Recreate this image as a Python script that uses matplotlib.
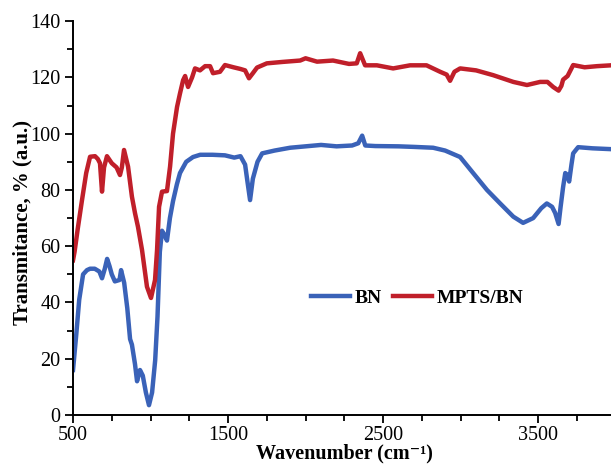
import numpy as np
import matplotlib.pyplot as plt
from matplotlib.ticker import MultipleLocator, FixedLocator

plt.rcParams['font.family'] = ['Liberation Serif', 'DejaVu Serif']

# BN spectrum (wavenumber, transmittance)
bn_x = [500, 520, 540, 565, 590, 610, 640, 670, 687, 705, 720, 735, 750, 770, 800,
        810, 830, 850, 868, 880, 900, 913, 932, 950, 970, 990, 1010, 1030, 1045,
        1060, 1074, 1090, 1106, 1125, 1145, 1170, 1190, 1230, 1274, 1320, 1400,
        1480, 1540, 1580, 1610, 1625, 1642, 1660, 1690, 1720, 1800, 1900, 2000,
        2100, 2200, 2300, 2340, 2365, 2385, 2450, 2600, 2700, 2823, 2900, 2997,
        3081, 3170, 3255, 3340, 3403, 3468, 3520, 3556, 3590, 3610, 3632, 3645,
        3661, 3675, 3686, 3700, 3715, 3726, 3758, 3850, 3970]
bn_y = [16, 28, 41, 50, 51.5, 52, 52, 51, 48.6, 52, 55.5, 53, 50, 47.5, 48,
        51.5, 47, 38, 27, 25, 18, 12, 16, 14, 8, 3.5, 8, 19.5, 35,
        58, 65.5, 64, 62, 70, 76, 82, 86, 90, 91.7, 92.5, 92.5,
        92.3, 91.5, 92, 89, 83, 76.4, 84, 90, 93, 94, 95, 95.5,
        96, 95.5, 95.8, 96.6, 99.3, 95.8, 95.6, 95.5, 95.3, 95, 94, 91.7,
        86, 80, 75.2, 70.5, 68.3, 70, 73.5, 75.2, 74, 71.8, 67.9, 74,
        81, 86, 85.5, 83, 89, 93, 95.2, 94.8, 94.5]

# MPTS/BN spectrum
mpts_x = [500, 510, 530, 558, 585, 610, 642, 660, 674, 687, 700, 719, 750, 781,
          803, 815, 829, 855, 880, 900, 919, 945, 977, 1003, 1029, 1042, 1055,
          1074, 1090, 1106, 1126, 1145, 1171, 1190, 1210, 1223, 1242, 1268,
          1287, 1319, 1352, 1384, 1403, 1448, 1480, 1535, 1580, 1610, 1635,
          1660, 1687, 1750, 1850, 1965, 2000, 2074, 2177, 2280, 2330, 2352,
          2384, 2460, 2565, 2674, 2780, 2868, 2910, 2932, 2960, 2997, 3100,
          3210, 3340, 3428, 3513, 3560, 3597, 3632, 3650, 3661, 3690, 3726,
          3800, 3880, 3970]
mpts_y = [55, 58, 66, 76.4, 86, 91.8, 92, 91, 89.5, 79.4, 88, 92, 89.5, 88,
          85.3, 88, 94.2, 88.3, 77.6, 71.7, 66.9, 58.7, 45.6, 41.6, 48, 58.6, 74,
          79.4, 79.5, 79.6, 88.3, 100, 109.5, 114.3, 119, 120.5, 116.6, 120,
          123.2, 122.5, 124, 124, 121.5, 122, 124.4, 123.6, 123, 122.5, 119.7,
          121.5, 123.5, 125, 125.5, 126, 126.8, 125.6, 126, 124.8, 125, 128.6,
          124.3, 124.3, 123.2, 124.3, 124.3, 122, 121, 118.8, 122, 123.2, 122.5,
          120.8, 118.4, 117.3, 118.4, 118.4, 116.6, 115.3, 117, 119.2, 120.5, 124.4,
          123.6, 124, 124.3]

fig = plt.figure(figsize=(6.11, 4.70), dpi=100)
ax = fig.add_axes([0.1195, 0.117, 0.8805, 0.838])

ax.plot(bn_x, bn_y, color='#3a62b8', linewidth=3.2, label='BN')
ax.plot(mpts_x, mpts_y, color='#c01f2a', linewidth=3.2, label='MPTS/BN')

ax.set_xlim(500, 3970)
ax.set_ylim(0, 140)
ax.xaxis.set_major_locator(FixedLocator([500, 1500, 2500, 3500]))
ax.xaxis.set_minor_locator(MultipleLocator(250))
ax.yaxis.set_major_locator(MultipleLocator(20))
ax.yaxis.set_minor_locator(MultipleLocator(10))
ax.tick_params(which='major', direction='out', length=6, width=1.3, labelsize=14.5, pad=3)
ax.tick_params(axis='x', which='major', pad=2)
ax.tick_params(which='minor', direction='out', length=4, width=1.3)

for s in ['top', 'right']:
    ax.spines[s].set_visible(False)
for s in ['left', 'bottom']:
    ax.spines[s].set_linewidth(1.4)

ax.set_xlabel('Wavenumber (cm\u207b\u00b9)', fontsize=14.5, fontweight='bold')
ax.set_ylabel('Transmitance, % (a.u.)', fontsize=15, fontweight='bold')
ax.xaxis.set_label_coords(0.504, -0.073)
ax.yaxis.set_label_coords(-0.076, 0.49)

ax.legend(loc='center', bbox_to_anchor=(0.64, 0.297), ncol=2, frameon=False,
          handlelength=2.0, handletextpad=0.25, columnspacing=0.6,
          prop={'weight': 'bold', 'size': 14})

fig.savefig('out.png', dpi=100)
